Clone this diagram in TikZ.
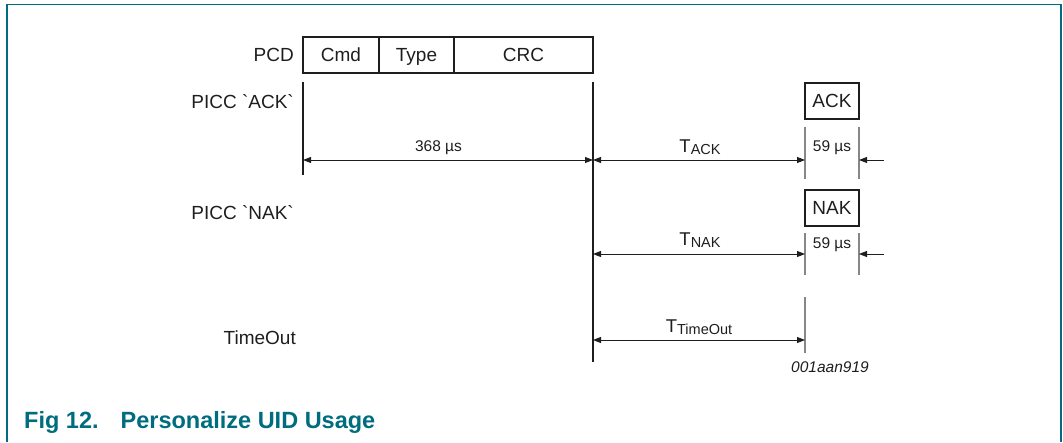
\documentclass[tikz,border=0pt]{standalone}
\usepackage{fontspec}
\setmainfont{Liberation Sans}
\newfontfamily\rawsans{Liberation Sans}[Ligatures=TeXOff]
\usetikzlibrary{arrows.meta}
\definecolor{nxpteal}{RGB}{0,108,128}
\definecolor{guide}{RGB}{135,135,135}
\definecolor{ink}{RGB}{30,30,30}
\newcommand\tsub[1]{{\fontsize{18.5}{20}\selectfont T}\raisebox{-2pt}{\fontsize{14.5}{16}\selectfont #1}}
\begin{document}
\begin{tikzpicture}[x=1pt,y=-1pt,
  lbl/.style={font=\rawsans\fontsize{19}{21}\selectfont, inner sep=0pt, text=ink},
  small/.style={font=\fontsize{15.5}{18}\selectfont, inner sep=0pt, anchor=base, text=ink},
  tlbl/.style={inner sep=0pt, anchor=base, text=ink},
  field/.style={draw=ink, line width=2pt, minimum height=36pt, inner sep=0pt, text height=14pt, text depth=1pt, font=\fontsize{19}{21}\selectfont, text=ink},
  tip/.tip={Triangle[length=8pt,width=6pt]},
  dim/.style={draw=ink, line width=0.9pt, tip-tip},
  dimr/.style={draw=ink, line width=0.9pt, -tip},
  bar/.style={draw=ink, line width=1.1pt},
  gbar/.style={draw=guide, line width=1.1pt},
]
\useasboundingbox (0,0) rectangle (1063,442);
% frame
\draw[nxpteal, line width=1.6pt] (7,442) -- (7,4.5) -- (1061,4.5) -- (1061,442);

% PCD frame
\node[field, minimum width=76pt] (cmd) at (341,55) {Cmd};
\node[field, minimum width=75pt] (type) at (416.5,55) {Type};
\node[field, minimum width=139pt] (crc) at (523.5,55) {CRC};
\node[lbl, anchor=east] (pcd) at (294,55) {PCD};

% row labels
\node[lbl, anchor=east] (piccack) at (294,102) {PICC `ACK`};
\node[lbl, anchor=east] (piccnak) at (294,213) {PICC `NAK`};
\node[lbl, anchor=east] (timeout) at (296,338) {TimeOut};

% response boxes
\node[field, minimum width=54pt] (ack) at (832,101) {ACK};
\node[field, minimum width=54pt] (nak) at (832,208) {NAK};

% main vertical lines
\coordinate (s0t) at (303,82);  \coordinate (s0b) at (303,175);
\coordinate (s1t) at (593,82);  \coordinate (s1b) at (593,362);
\draw[bar] (s0t) -- (s0b);
\draw[bar] (s1t) -- (s1b);

% gray guide lines
\coordinate (a1t) at (805,127); \coordinate (a1b) at (805,179);
\coordinate (a2t) at (859,127); \coordinate (a2b) at (859,179);
\coordinate (n1t) at (805,233); \coordinate (n1b) at (805,275);
\coordinate (n2t) at (859,233); \coordinate (n2b) at (859,275);
\coordinate (t1t) at (805,297); \coordinate (t1b) at (805,353);
\draw[gbar] (a1t) -- (a1b);
\draw[gbar] (a2t) -- (a2b);
\draw[gbar] (n1t) -- (n1b);
\draw[gbar] (n2t) -- (n2b);
\draw[gbar] (t1t) -- (t1b);

% dimension arrows, ACK row
\coordinate (d0) at (303,160); \coordinate (d1) at (593,160);
\coordinate (d2) at (805,160); \coordinate (d3) at (859,160);
\coordinate (d4) at (884,160);
\draw[dim] (d0) -- (d1);
\draw[dim] (d1) -- (d2);
\draw[dimr] (d4) -- (d3);
\node[small] (l368) at (438.5,151) {368 µs};
\node[tlbl] (tack) at (700,152) {\tsub{ACK}};
\node[small] (l59a) at (832,151) {59 µs};

% NAK row
\coordinate (e1) at (593,254); \coordinate (e2) at (805,254);
\coordinate (e3) at (859,254); \coordinate (e4) at (884,254);
\draw[dim] (e1) -- (e2);
\draw[dimr] (e4) -- (e3);
\node[tlbl] (tnak) at (700,245) {\tsub{NAK}};
\node[small] (l59n) at (832,248) {59 µs};

% TimeOut row
\coordinate (f1) at (593,340); \coordinate (f2) at (805,340);
\draw[dim] (f1) -- (f2);
\node[tlbl] (tto) at (699,332) {\tsub{TimeOut}};

\node[small, font=\fontsize{15.5}{18}\selectfont\itshape] (code) at (830,372) {001aan919};

% caption
\node[inner sep=0pt, anchor=base west, text=nxpteal, font=\fontsize{23.5}{26}\selectfont\bfseries] (cap) at (24,428) {Fig 12.\hspace{22pt}Personalize UID Usage};
\end{tikzpicture}
\end{document}
